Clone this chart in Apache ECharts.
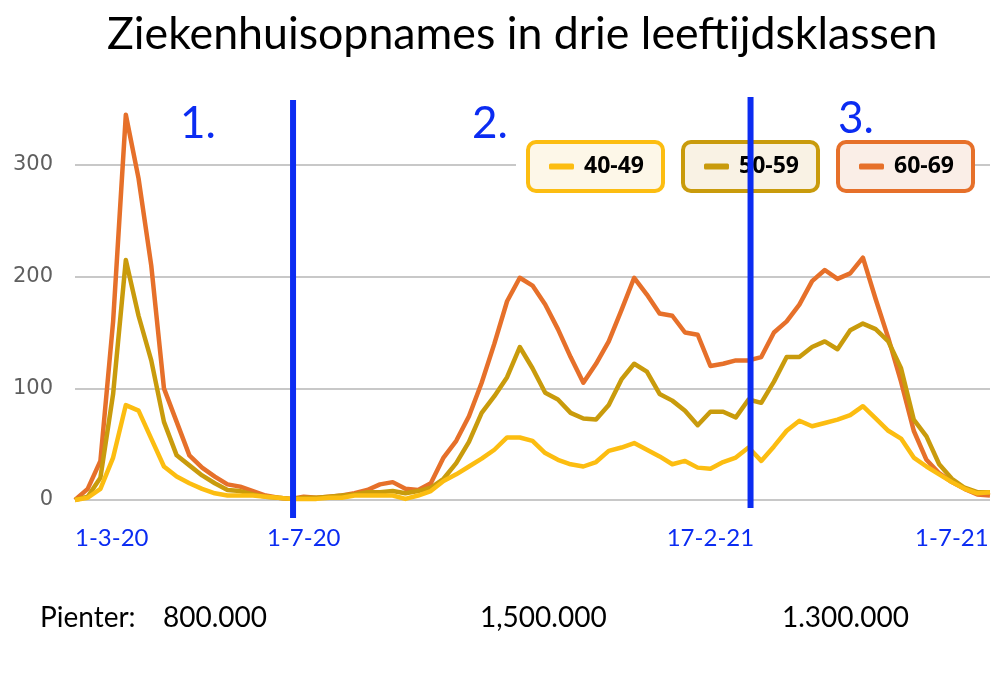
<!DOCTYPE html>
<html>
<head>
<meta charset="utf-8">
<script src="https://cdn.jsdelivr.net/npm/echarts@6/dist/echarts.min.js"></script>
<style>html,body{margin:0;padding:0;background:#fff}#c{width:1000px;height:700px}</style>
</head>
<body>
<div id="c"></div>
<script>
// Weekly categories (week starting dates)
const weeks = [
  '1-3-20','8-3-20','15-3-20','22-3-20','29-3-20','5-4-20','12-4-20','19-4-20','26-4-20',
  '3-5-20','10-5-20','17-5-20','24-5-20','31-5-20','7-6-20','14-6-20','21-6-20','28-6-20',
  '5-7-20','12-7-20','19-7-20','26-7-20','2-8-20','9-8-20','16-8-20','23-8-20','30-8-20',
  '6-9-20','13-9-20','20-9-20','27-9-20','4-10-20','11-10-20','18-10-20','25-10-20',
  '1-11-20','8-11-20','15-11-20','22-11-20','29-11-20','6-12-20','13-12-20','20-12-20','27-12-20',
  '3-1-21','10-1-21','17-1-21','24-1-21','31-1-21','7-2-21','14-2-21','21-2-21','28-2-21',
  '7-3-21','14-3-21','21-3-21','28-3-21','4-4-21','11-4-21','18-4-21','25-4-21',
  '2-5-21','9-5-21','16-5-21','23-5-21','30-5-21','6-6-21','13-6-21','20-6-21','27-6-21',
  '4-7-21','11-7-21','18-7-21'
];
const seriesNames = ['40-49','50-59','60-69'];
const age40_49 = [0,2,10,38,85,80,55,30,21,15,10,6,4,4,4,3,2,1,
  1,1,2,2,4,4,4,4,1,4,8,17,23,30,37,45,56,56,53,42,36,32,30,34,44,47,51,45,39,32,35,29,28,34,38,47,35,48,62,71,66,69,72,76,84,73,62,55,38,30,23,16,10,6,7];
const age50_59 = [0,3,20,95,215,165,125,70,40,31,22,15,9,8,5,3,2,1,
  2,2,3,4,5,7,7,8,6,8,11,19,33,52,78,93,110,137,118,96,90,78,73,72,85,108,122,115,95,89,80,67,79,79,74,90,87,106,128,128,137,142,135,152,158,153,142,118,72,57,32,19,11,7,7];
const age60_69 = [0,10,35,160,345,288,210,100,70,40,29,21,14,12,8,4,2,1,
  3,2,3,4,6,9,14,16,10,9,15,38,53,75,105,140,178,199,192,175,153,128,105,122,142,170,199,184,167,165,150,148,120,122,125,125,128,150,160,175,196,206,198,203,217,180,145,106,62,36,24,16,10,5,4];
const yTicks = [0,100,200,300];
const xTickLabels = {0:'1-3-20', 18:'1-7-20', 50:'17-2-21', 69:'1-7-21'};
const phaseLines = [17, 53];            // category indices of blue separators
const phaseLabels = ['1.','2.','3.'];
const pienterLabel = 'Pienter:';
const pienterValues = ['800.000','1,500.000','1.300.000'];

const colors = ['#fcbd11','#c99b0c','#e6702a'];
const fills = ['#fdf7e8','#f9f2e4','#faeee7'];
const blue = '#0b2cf2';

const chart = echarts.init(document.getElementById('c'));
const allData = [age40_49, age50_59, age60_69];

function legendFor(i, left) {
  return {
    data: [seriesNames[i]], left: left, top: 142, orient: 'horizontal', z: 6,
    selectedMode: false, icon: 'roundRect', itemWidth: 25, itemHeight: 6,
    padding: [13, 19, 13, 21],
    backgroundColor: fills[i], borderColor: colors[i], borderWidth: 4, borderRadius: 8,
    textStyle: {fontFamily: 'Open Sans', fontWeight: 'bold', fontSize: 23, color: '#000', padding: [0,0,0,5]}
  };
}

chart.setOption({
  animation: false,
  title: {
    text: 'Ziekenhuisopnames in drie leeftijdsklassen', left: 102, top: 7,
    textStyle: {fontFamily: 'Lato', fontSize: 44.7, fontWeight: 'normal', color: '#000'}
  },
  legend: [legendFor(0, 528), legendFor(1, 683), legendFor(2, 838)],
  grid: {left: 75, right: 10, top: 165, bottom: 200, containLabel: false},
  xAxis: {
    type: 'category', data: weeks, boundaryGap: false,
    axisLine: {show: false}, axisTick: {show: false}, splitLine: {show: false},
    axisLabel: {
      interval: (idx) => xTickLabels[idx] !== undefined,
      formatter: (v, idx) => xTickLabels[idx] || '',
      color: blue, fontFamily: 'Lato', fontSize: 24, margin: 26,
      alignMinLabel: 'left'
    }
  },
  yAxis: {
    type: 'value', min: yTicks[0], max: yTicks[yTicks.length-1], interval: 100,
    axisLine: {show: false}, axisTick: {show: false},
    splitLine: {lineStyle: {color: '#c8c8c8', width: 2}},
    axisLabel: {color: '#5f5f5f', fontFamily: 'DejaVu Sans', fontSize: 21, margin: 22}
  },
  series: seriesNames.map((n, i) => ({
    name: n, type: 'line', data: allData[i], symbol: 'none', clip: false,
    z: 4 - i,
    color: colors[i],
    lineStyle: {width: 4.5, color: colors[i], join: 'round'}
  }))
});

// annotations positioned via the chart's own scales
const gfx = [];
const y300 = chart.convertToPixel({yAxisIndex: 0}, 300);
gfx.push({type: 'rect', shape: {x: 516, y: y300 - 3, width: 456, height: 6},
  style: {fill: '#fff'}, z: 1});
const xs = phaseLines.map(i => chart.convertToPixel({xAxisIndex: 0}, i));
const lineExt = [[100, 518], [97, 508]];
xs.forEach((x, k) => {
  gfx.push({type: 'line', shape: {x1: x + 2, y1: lineExt[k][0], x2: x + 2, y2: lineExt[k][1]},
    style: {stroke: blue, lineWidth: 6}, z: 10});
});
const phasePos = [[180, 102], [472, 102], [838, 97]];
phaseLabels.forEach((t, k) => {
  gfx.push({type: 'text', left: phasePos[k][0], top: phasePos[k][1],
    style: {text: t, fill: blue, font: '44px Lato'}, z: 10});
});
const pPos = [[163, 604], [480, 604], [782, 604]];
gfx.push({type: 'text', left: 40, top: 604, style: {text: pienterLabel, fill: '#000', font: '28px Lato'}, z: 10});
pienterValues.forEach((t, k) => {
  gfx.push({type: 'text', left: pPos[k][0], top: pPos[k][1],
    style: {text: t, fill: '#000', font: '28px Lato'}, z: 10});
});
chart.setOption({graphic: gfx});
</script>
</body>
</html>
